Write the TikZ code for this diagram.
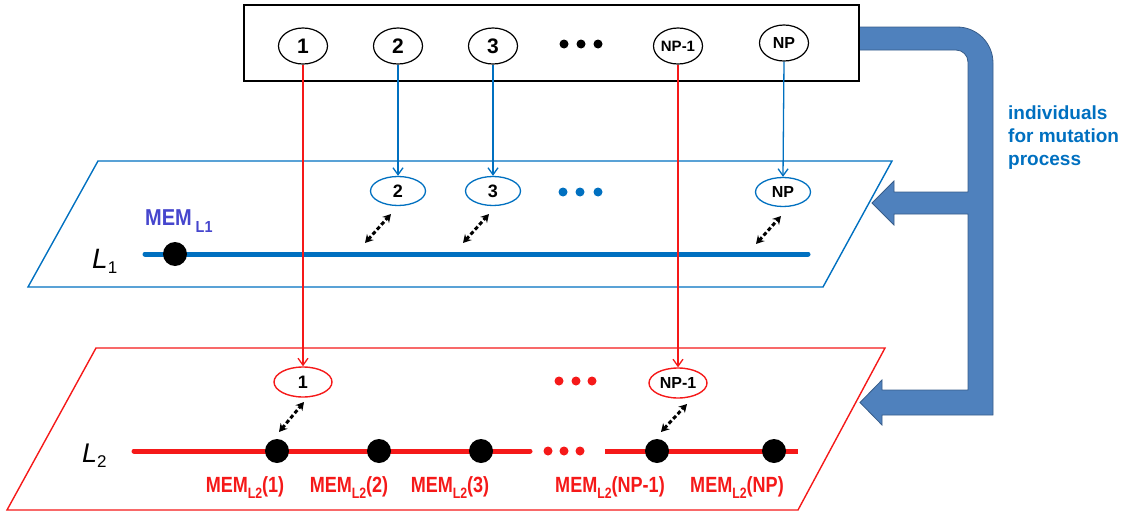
\documentclass[tikz,border=0pt]{standalone}
\usepackage{fontspec}
\setmainfont{Liberation Sans}
\usetikzlibrary{shapes.geometric,arrows.meta}
\definecolor{lblue}{RGB}{0,112,192}
\definecolor{lred}{RGB}{245,25,25}
\definecolor{memblue}{RGB}{70,70,205}
\definecolor{bigfill}{RGB}{79,129,189}
\definecolor{bigdraw}{RGB}{56,93,138}
\begin{document}
\begin{tikzpicture}[x=1pt,y=-1pt,
  topell/.style={ellipse, draw=black, line width=1.2pt, minimum width=49pt, minimum height=36pt, inner sep=0pt, font=\bfseries\fontsize{21}{21}\selectfont},
  lonell/.style={ellipse, draw=lblue, line width=1.3pt, minimum width=55pt, minimum height=29pt, inner sep=0pt, font=\bfseries\fontsize{18}{18}\selectfont},
  ltwoell/.style={ellipse, draw=lred, line width=1.4pt, minimum width=58pt, minimum height=30pt, inner sep=0pt, font=\bfseries\fontsize{18}{18}\selectfont},
  memdot/.style={circle, fill=black, minimum size=24pt, inner sep=0pt},
  smalldot/.style={circle, fill=#1, minimum size=9pt, inner sep=0pt},
  bluecon/.style={draw=lblue, line width=1.3pt, -{Straight Barb[length=7pt,width=10pt,line width=1.3pt]}},
  redcon/.style={draw=lred, line width=1.3pt, -{Straight Barb[length=7pt,width=10pt,line width=1.3pt]}},
  dblarrow/.style={draw=black, line width=3pt, dash pattern=on 4pt off 2.5pt, {Stealth[length=8pt,width=9pt]}-{Stealth[length=8pt,width=9pt]}},
  memlab/.style={text=lred, inner sep=0pt, anchor=base},
  plane/.style={line width=1.4pt, line join=miter}
]
\useasboundingbox (0,0) rectangle (1136,514);

% big blue arrow
\fill[bigfill, draw=bigdraw, line width=0.8pt]
  (857,27) -- (957,27) .. controls (977,27) and (993,43) .. (993,63)
  -- (993,415) -- (882,415) -- (882,425) -- (860,402.5) -- (882,380) -- (882,390)
  -- (968,390) -- (968,214) -- (894,214) -- (894,225) -- (872,203) -- (894,181)
  -- (894,192) -- (968,192) -- (968,62) .. controls (968,55.4) and (962.6,50) .. (956,50)
  -- (857,50) -- cycle;

\node[align=left, anchor=north west, inner sep=0pt, text=lblue,
      font=\bfseries\fontsize{19}{23}\selectfont] (mutlab) at (1008,106)
  {individuals\\for mutation\\process};

% top box
\node[draw=black, line width=1.3pt, fill=white, minimum width=615pt, minimum height=76pt, inner sep=0pt] (topbox) at (551.5,43) {};

% planes
\draw[plane, draw=lblue] (98,161) -- (892,161) -- (823,287) -- (28,287) -- cycle;
\draw[plane, draw=lred] (96,348) -- (885,348) -- (798,510) -- (7,510) -- cycle;

% L1 line
\coordinate (lonestart) at (145,254);
\coordinate (loneend) at (808,254);
\draw[lblue, line width=5pt, line cap=round] (lonestart) -- (loneend);
\node[memdot] (memone) at (175,254) {};
\node[anchor=base west, inner sep=0pt, text=memblue] (memonelab) at (145,225)
  {\bfseries\fontsize{23}{23}\selectfont\scalebox{0.87}[1]{MEM}\,\raisebox{-7pt}{\fontsize{16}{16}\selectfont\scalebox{0.9}[1]{L1}}};
\node[anchor=base west, inner sep=0pt] (lonelab) at (92,268)
  {\fontsize{28}{28}\selectfont\itshape L\raisebox{-5pt}{\fontsize{17}{17}\selectfont\upshape 1}};

% L2 line
\coordinate (ltwoa) at (134,451);
\coordinate (ltwob) at (530,451);
\coordinate (ltwoc) at (605,451);
\coordinate (ltwod) at (798,451);
\draw[lred, line width=5pt, line cap=round] (ltwoa) -- (ltwob);
\draw[lred, line width=5pt] (ltwoc) -- (ltwod);
\node[smalldot=lred] (rd1) at (548,451) {};
\node[smalldot=lred] (rd2) at (564,451) {};
\node[smalldot=lred] (rd3) at (580,451) {};
\node[memdot] (mem1) at (277,451) {};
\node[memdot] (mem2) at (379,451) {};
\node[memdot] (mem3) at (481,451) {};
\node[memdot] (memnpm) at (657,451) {};
\node[memdot] (memnp) at (774,451) {};
\node[anchor=base west, inner sep=0pt] (ltwolab) at (82,462)
  {\fontsize{27}{27}\selectfont\itshape L\raisebox{-5pt}{\fontsize{17}{17}\selectfont\upshape 2}};

\newcommand{\memtwo}[1]{\scalebox{0.82}[1]{\bfseries\fontsize{22}{22}\selectfont MEM\raisebox{-6pt}{\fontsize{15}{15}\selectfont L2}(#1)}}
\node[memlab] (ml1) at (245,492) {\memtwo{1}};
\node[memlab] (ml2) at (349,492) {\memtwo{2}};
\node[memlab] (ml3) at (450,492) {\memtwo{3}};
\node[memlab] (mlnpm) at (610,492) {\memtwo{NP-1}};
\node[memlab] (mlnp) at (737,492) {\memtwo{NP}};

% top individuals
\node[topell] (t1) at (303,46) {1};
\node[topell] (t2) at (398,46) {2};
\node[topell] (t3) at (493,46) {3};
\node[topell, font=\bfseries\fontsize{15}{15}\selectfont] (tnpm) at (678,46) {NP-1};
\node[topell, font=\bfseries\fontsize{16}{16}\selectfont] (tnp) at (784,43) {NP};
\node[smalldot=black] (td1) at (564,44) {};
\node[smalldot=black] (td2) at (581,44) {};
\node[smalldot=black] (td3) at (598,44) {};

% L1 individuals
\node[lonell] (l2) at (398,191) {2};
\node[lonell] (l3) at (493,191) {3};
\node[lonell, font=\bfseries\fontsize{16}{16}\selectfont] (lnp) at (783,192) {NP};
\node[smalldot=lblue] (bd1) at (563,192) {};
\node[smalldot=lblue] (bd2) at (580,192) {};
\node[smalldot=lblue] (bd3) at (598,192) {};

% L2 individuals
\node[ltwoell] (b1) at (303,382) {1};
\node[ltwoell, font=\bfseries\fontsize{16}{16}\selectfont] (bnpm) at (678,383) {NP-1};
\node[smalldot=lred] (ud1) at (559,381) {};
\node[smalldot=lred] (ud2) at (576,381) {};
\node[smalldot=lred] (ud3) at (592,381) {};

% connectors
\draw[bluecon] (t2) -- (l2);
\draw[bluecon] (t3) -- (l3);
\draw[bluecon] (tnp.south) -- (lnp.north);
\draw[redcon] (t1) -- (b1);
\draw[redcon] (tnpm) -- (bnpm);

% double arrows
\coordinate (da2) at (365,243); \coordinate (db2) at (391,214);
\coordinate (da3) at (463,243); \coordinate (db3) at (489,214);
\coordinate (danp) at (756,244); \coordinate (dbnp) at (781,216);
\coordinate (da1) at (279,432); \coordinate (db1) at (304,402);
\coordinate (danpm) at (661,432); \coordinate (dbnpm) at (687,404);
\draw[dblarrow] (da2) -- (db2);
\draw[dblarrow] (da3) -- (db3);
\draw[dblarrow] (danp) -- (dbnp);
\draw[dblarrow] (da1) -- (db1);
\draw[dblarrow] (danpm) -- (dbnpm);
\end{tikzpicture}
\end{document}
